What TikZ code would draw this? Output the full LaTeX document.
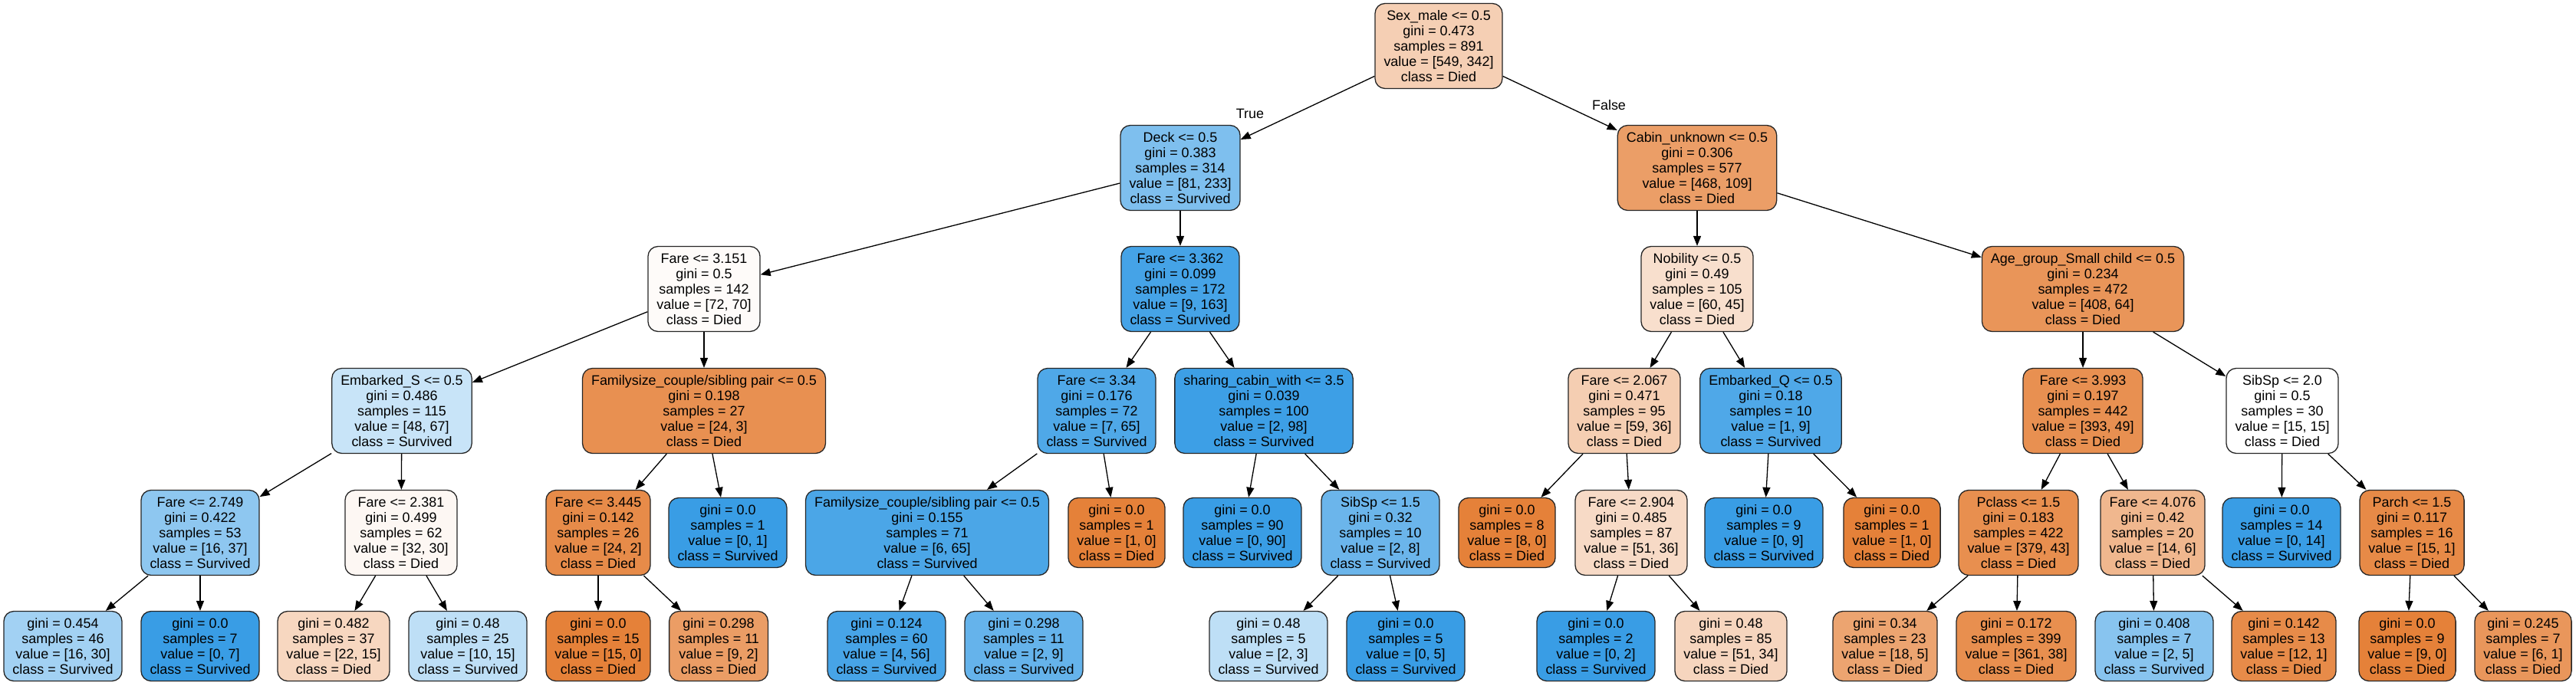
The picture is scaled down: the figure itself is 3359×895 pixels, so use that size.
\documentclass[tikz,border=0pt]{standalone}
\usepackage{fontspec}
\setmainfont{Liberation Sans}
\usetikzlibrary{arrows.meta}

\definecolor{died}{RGB}{229,129,57}
\definecolor{surv}{RGB}{57,157,229}
\newcommand\treefont{\fontsize{10.2}{11.4}\selectfont}

\tikzset{
  split/.style={draw=black!85,line width=0.26mm,rounded corners=2.6mm,align=center,
    inner xsep=2.3mm,inner ysep=0.4mm,minimum height=22.2mm,font=\treefont},
  leaf/.style={split,minimum height=18.2mm},
  branch/.style={font=\treefont},
}

\begin{document}
\begin{tikzpicture}[x=0.2mm,y=-0.2mm,>={Triangle[length=2.6mm,width=2mm]}]
  \useasboundingbox (0,0) rectangle (3359,895);

  % depth 0 and 1
  \node[split,fill=died!38] (sex) at (1876,60) {Sex\_male <= 0.5\\gini = 0.473\\samples = 891\\value = [549, 342]\\class = Died};
  \node[split,fill=surv!65] (deck) at (1539,219) {Deck <= 0.5\\gini = 0.383\\samples = 314\\value = [81, 233]\\class = Survived};
  \node[split,fill=died!77] (cabin) at (2213,219) {Cabin\_unknown <= 0.5\\gini = 0.306\\samples = 577\\value = [468, 109]\\class = Died};

  % depth 2
  \node[split,fill=died!3] (fareA) at (918,377) {Fare <= 3.151\\gini = 0.5\\samples = 142\\value = [72, 70]\\class = Died};
  \node[split,fill=surv!94] (fareB) at (1539,377) {Fare <= 3.362\\gini = 0.099\\samples = 172\\value = [9, 163]\\class = Survived};
  \node[split,fill=died!25] (nobility) at (2213,377) {Nobility <= 0.5\\gini = 0.49\\samples = 105\\value = [60, 45]\\class = Died};
  \node[split,fill=died!84] (agegroup) at (2716,377) {Age\_group\_Small child <= 0.5\\gini = 0.234\\samples = 472\\value = [408, 64]\\class = Died};

  % depth 3
  \node[split,fill=surv!28] (embS) at (524,536) {Embarked\_S <= 0.5\\gini = 0.486\\samples = 115\\value = [48, 67]\\class = Survived};
  \node[split,fill=died!88] (famA) at (918,536) {Familysize\_couple/sibling pair <= 0.5\\gini = 0.198\\samples = 27\\value = [24, 3]\\class = Died};
  \node[split,fill=surv!89] (fareC) at (1430,536) {Fare <= 3.34\\gini = 0.176\\samples = 72\\value = [7, 65]\\class = Survived};
  \node[split,fill=surv!98] (cabinwith) at (1648,536) {sharing\_cabin\_with <= 3.5\\gini = 0.039\\samples = 100\\value = [2, 98]\\class = Survived};
  \node[split,fill=died!39] (fareD) at (2118,536) {Fare <= 2.067\\gini = 0.471\\samples = 95\\value = [59, 36]\\class = Died};
  \node[split,fill=surv!89] (embQ) at (2309,536) {Embarked\_Q <= 0.5\\gini = 0.18\\samples = 10\\value = [1, 9]\\class = Survived};
  \node[split,fill=died!88] (fareE) at (2716,536) {Fare <= 3.993\\gini = 0.197\\samples = 442\\value = [393, 49]\\class = Died};
  \node[split,fill=white] (sibspA) at (2976,536) {SibSp <= 2.0\\gini = 0.5\\samples = 30\\value = [15, 15]\\class = Died};

  % depth 4
  \node[split,fill=surv!57] (fareF) at (261,695) {Fare <= 2.749\\gini = 0.422\\samples = 53\\value = [16, 37]\\class = Survived};
  \node[split,fill=died!6] (fareG) at (523,695) {Fare <= 2.381\\gini = 0.499\\samples = 62\\value = [32, 30]\\class = Died};
  \node[split,fill=died!92] (fareH) at (780,695) {Fare <= 3.445\\gini = 0.142\\samples = 26\\value = [24, 2]\\class = Died};
  \node[leaf,fill=surv] (leafA) at (949,695) {gini = 0.0\\samples = 1\\value = [0, 1]\\class = Survived};
  \node[split,fill=surv!91] (famB) at (1209,695) {Familysize\_couple/sibling pair <= 0.5\\gini = 0.155\\samples = 71\\value = [6, 65]\\class = Survived};
  \node[leaf,fill=died] (leafB) at (1456,695) {gini = 0.0\\samples = 1\\value = [1, 0]\\class = Died};
  \node[leaf,fill=surv] (leafC) at (1620,695) {gini = 0.0\\samples = 90\\value = [0, 90]\\class = Survived};
  \node[split,fill=surv!75] (sibspB) at (1800,695) {SibSp <= 1.5\\gini = 0.32\\samples = 10\\value = [2, 8]\\class = Survived};
  \node[leaf,fill=died] (leafD) at (1965,695) {gini = 0.0\\samples = 8\\value = [8, 0]\\class = Died};
  \node[split,fill=died!29] (fareI) at (2127,695) {Fare <= 2.904\\gini = 0.485\\samples = 87\\value = [51, 36]\\class = Died};
  \node[leaf,fill=surv] (leafE) at (2300,695) {gini = 0.0\\samples = 9\\value = [0, 9]\\class = Survived};
  \node[leaf,fill=died] (leafF) at (2467,695) {gini = 0.0\\samples = 1\\value = [1, 0]\\class = Died};
  \node[split,fill=died!89] (pclass) at (2632,695) {Pclass <= 1.5\\gini = 0.183\\samples = 422\\value = [379, 43]\\class = Died};
  \node[split,fill=died!57] (fareJ) at (2807,695) {Fare <= 4.076\\gini = 0.42\\samples = 20\\value = [14, 6]\\class = Died};
  \node[leaf,fill=surv] (leafG) at (2975,695) {gini = 0.0\\samples = 14\\value = [0, 14]\\class = Survived};
  \node[split,fill=died!93] (parch) at (3145,695) {Parch <= 1.5\\gini = 0.117\\samples = 16\\value = [15, 1]\\class = Died};

  % depth 5
  \node[leaf,fill=surv!47] (l1) at (82,843) {gini = 0.454\\samples = 46\\value = [16, 30]\\class = Survived};
  \node[leaf,fill=surv] (l2) at (261,843) {gini = 0.0\\samples = 7\\value = [0, 7]\\class = Survived};
  \node[leaf,fill=died!32] (l3) at (435,843) {gini = 0.482\\samples = 37\\value = [22, 15]\\class = Died};
  \node[leaf,fill=surv!33] (l4) at (610,843) {gini = 0.48\\samples = 25\\value = [10, 15]\\class = Survived};
  \node[leaf,fill=died] (l5) at (780,843) {gini = 0.0\\samples = 15\\value = [15, 0]\\class = Died};
  \node[leaf,fill=died!78] (l6) at (937,843) {gini = 0.298\\samples = 11\\value = [9, 2]\\class = Died};
  \node[leaf,fill=surv!93] (l7) at (1156,843) {gini = 0.124\\samples = 60\\value = [4, 56]\\class = Survived};
  \node[leaf,fill=surv!78] (l8) at (1335,843) {gini = 0.298\\samples = 11\\value = [2, 9]\\class = Survived};
  \node[leaf,fill=surv!33] (l9) at (1654,843) {gini = 0.48\\samples = 5\\value = [2, 3]\\class = Survived};
  \node[leaf,fill=surv] (l10) at (1833,843) {gini = 0.0\\samples = 5\\value = [0, 5]\\class = Survived};
  \node[leaf,fill=surv] (l11) at (2081,843) {gini = 0.0\\samples = 2\\value = [0, 2]\\class = Survived};
  \node[leaf,fill=died!33] (l12) at (2257,843) {gini = 0.48\\samples = 85\\value = [51, 34]\\class = Died};
  \node[leaf,fill=died!72] (l13) at (2458,843) {gini = 0.34\\samples = 23\\value = [18, 5]\\class = Died};
  \node[leaf,fill=died!89] (l14) at (2629,843) {gini = 0.172\\samples = 399\\value = [361, 38]\\class = Died};
  \node[leaf,fill=surv!60] (l15) at (2809,843) {gini = 0.408\\samples = 7\\value = [2, 5]\\class = Survived};
  \node[leaf,fill=died!92] (l16) at (2978,843) {gini = 0.142\\samples = 13\\value = [12, 1]\\class = Died};
  \node[leaf,fill=died] (l17) at (3139,843) {gini = 0.0\\samples = 9\\value = [9, 0]\\class = Died};
  \node[leaf,fill=died!83] (l18) at (3290,843) {gini = 0.245\\samples = 7\\value = [6, 1]\\class = Died};

  % edges
  \foreach \a/\b in {sex/deck,sex/cabin,deck/fareA,deck/fareB,cabin/nobility,cabin/agegroup,
      fareA/embS,fareA/famA,fareB/fareC,fareB/cabinwith,nobility/fareD,nobility/embQ,
      agegroup/fareE,agegroup/sibspA,embS/fareF,embS/fareG,famA/fareH,famA/leafA,
      fareC/famB,fareC/leafB,cabinwith/leafC,cabinwith/sibspB,fareD/leafD,fareD/fareI,
      embQ/leafE,embQ/leafF,fareE/pclass,fareE/fareJ,sibspA/leafG,sibspA/parch,
      fareF/l1,fareF/l2,fareG/l3,fareG/l4,fareH/l5,fareH/l6,famB/l7,famB/l8,
      sibspB/l9,sibspB/l10,fareI/l11,fareI/l12,pclass/l13,pclass/l14,
      fareJ/l15,fareJ/l16,parch/l17,parch/l18}
    \draw[->,line width=0.26mm] (\a) -- (\b);

  \node[branch] (truelbl) at (1630,148) {True};
  \node[branch] (falselbl) at (2098,137) {False};
\end{tikzpicture}
\end{document}
